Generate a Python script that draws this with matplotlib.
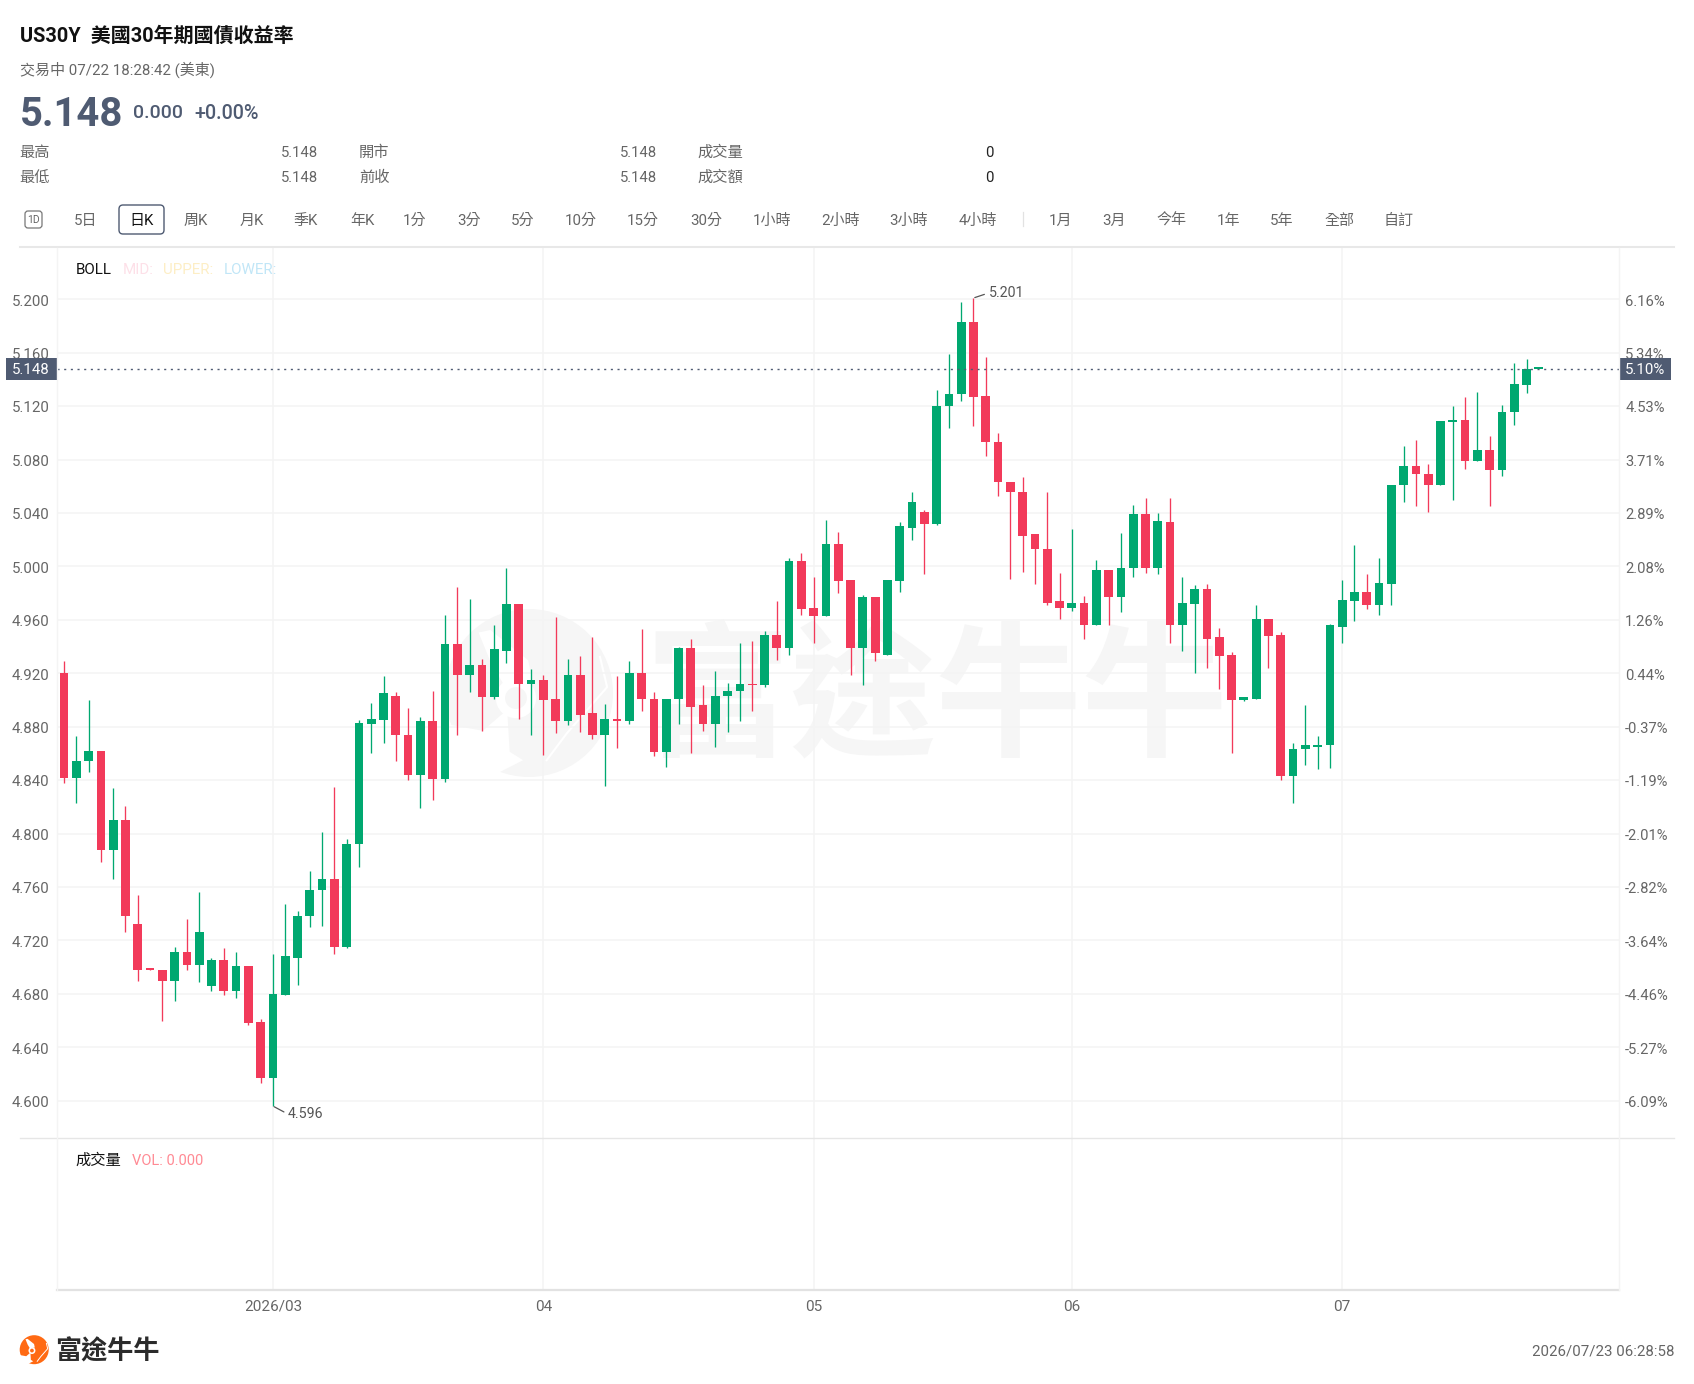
import numpy as np
import matplotlib
matplotlib.use('Agg')
import matplotlib.pyplot as plt
from matplotlib.patches import Circle, FancyBboxPatch, Polygon, Rectangle
from matplotlib.transforms import ScaledTranslation

plt.rcParams['font.family'] = ['Roboto', 'Noto Sans CJK TC', 'DejaVu Sans']

# daily candles
opens = [4.920, 4.842, 4.854, 4.862, 4.788, 4.810, 4.732, 4.699, 4.698, 4.690,
         4.711, 4.702, 4.686, 4.705, 4.682, 4.701, 4.659, 4.617, 4.679, 4.707,
         4.738, 4.758, 4.766, 4.715, 4.792, 4.882, 4.885, 4.903, 4.874, 4.844,
         4.884, 4.841, 4.942, 4.919, 4.926, 4.902, 4.937, 4.972, 4.912, 4.915,
         4.901, 4.884, 4.919, 4.890, 4.874, 4.886, 4.884, 4.920, 4.901, 4.861,
         4.901, 4.939, 4.896, 4.882, 4.903, 4.907, 4.912, 4.911, 4.949, 4.939,
         5.004, 4.969, 4.963, 5.017, 4.990, 4.939, 4.977, 4.934, 4.989, 5.029,
         5.041, 5.032, 5.120, 5.129, 5.183, 5.128, 5.093, 5.063, 5.056, 5.024,
         5.013, 4.974, 4.969, 4.973, 4.956, 4.997, 4.977, 4.999, 5.039, 4.999,
         5.033, 4.956, 4.972, 4.983, 4.947, 4.934, 4.900, 4.901, 4.961, 4.949,
         4.843, 4.863, 4.865, 4.866, 4.955, 4.974, 4.981, 4.971, 4.987, 5.061,
         5.075, 5.069, 5.061, 5.108, 5.110, 5.079, 5.087, 5.072, 5.116, 5.136,
         5.148]
highs = [4.929, 4.873, 4.900, 4.862, 4.834, 4.821, 4.754, 4.699, 4.698, 4.715,
         4.736, 4.756, 4.707, 4.714, 4.711, 4.701, 4.661, 4.710, 4.747, 4.742,
         4.772, 4.801, 4.835, 4.796, 4.885, 4.898, 4.918, 4.906, 4.894, 4.887,
         4.907, 4.964, 4.985, 4.976, 4.931, 4.956, 4.999, 4.972, 4.923, 4.919,
         4.962, 4.931, 4.933, 4.947, 4.897, 4.918, 4.929, 4.953, 4.906, 4.901,
         4.940, 4.946, 4.911, 4.922, 4.913, 4.943, 4.944, 4.952, 4.974, 5.006,
         5.010, 4.992, 5.035, 5.026, 4.990, 4.979, 4.977, 4.990, 5.033, 5.056,
         5.042, 5.132, 5.159, 5.198, 5.201, 5.157, 5.100, 5.063, 5.067, 5.024,
         5.056, 4.995, 5.028, 4.978, 5.005, 4.997, 5.025, 5.046, 5.051, 5.040,
         5.051, 4.992, 4.986, 4.987, 4.954, 4.936, 4.902, 4.971, 4.961, 4.951,
         4.868, 4.896, 4.873, 4.957, 4.990, 5.016, 4.994, 5.006, 5.061, 5.090,
         5.095, 5.077, 5.109, 5.120, 5.127, 5.131, 5.098, 5.121, 5.152, 5.155,
         5.148]
lows = [4.838, 4.823, 4.846, 4.779, 4.766, 4.726, 4.690, 4.698, 4.660, 4.675,
        4.698, 4.689, 4.682, 4.679, 4.677, 4.657, 4.613, 4.596, 4.679, 4.687,
        4.730, 4.731, 4.710, 4.714, 4.775, 4.860, 4.868, 4.854, 4.840, 4.819,
        4.825, 4.839, 4.874, 4.906, 4.877, 4.901, 4.928, 4.886, 4.874, 4.859,
        4.875, 4.881, 4.876, 4.871, 4.836, 4.864, 4.882, 4.892, 4.858, 4.850,
        4.882, 4.860, 4.877, 4.865, 4.876, 4.884, 4.892, 4.910, 4.930, 4.934,
        4.964, 4.943, 4.963, 4.980, 4.919, 4.911, 4.929, 4.934, 4.981, 5.020,
        4.994, 5.031, 5.104, 5.124, 5.105, 5.083, 5.053, 4.991, 4.996, 4.987,
        4.971, 4.961, 4.967, 4.946, 4.956, 4.956, 4.966, 4.992, 4.995, 4.994,
        4.943, 4.937, 4.920, 4.924, 4.908, 4.860, 4.899, 4.901, 4.924, 4.840,
        4.823, 4.851, 4.848, 4.849, 4.943, 4.959, 4.968, 4.964, 4.971, 5.048,
        5.045, 5.041, 5.061, 5.050, 5.073, 5.079, 5.045, 5.068, 5.106, 5.130,
        5.148]
closes = [4.842, 4.854, 4.862, 4.788, 4.810, 4.738, 4.698, 4.698, 4.690, 4.711,
          4.702, 4.726, 4.705, 4.682, 4.701, 4.658, 4.617, 4.680, 4.708, 4.738,
          4.758, 4.766, 4.715, 4.792, 4.883, 4.886, 4.905, 4.874, 4.844, 4.884,
          4.841, 4.942, 4.919, 4.926, 4.902, 4.938, 4.972, 4.912, 4.915, 4.900,
          4.884, 4.919, 4.889, 4.874, 4.886, 4.884, 4.920, 4.901, 4.861, 4.901,
          4.939, 4.895, 4.882, 4.903, 4.907, 4.912, 4.911, 4.949, 4.939, 5.004,
          4.968, 4.963, 5.017, 4.989, 4.939, 4.977, 4.935, 4.990, 5.030, 5.048,
          5.032, 5.120, 5.129, 5.183, 5.127, 5.093, 5.063, 5.056, 5.023, 5.013,
          4.973, 4.969, 4.973, 4.956, 4.997, 4.977, 4.999, 5.039, 4.999, 5.034,
          4.956, 4.973, 4.983, 4.946, 4.933, 4.900, 4.902, 4.961, 4.948, 4.843,
          4.863, 4.866, 4.866, 4.956, 4.975, 4.981, 4.971, 4.988, 5.061, 5.075,
          5.069, 5.061, 5.109, 5.110, 5.079, 5.087, 5.072, 5.116, 5.137, 5.148,
          5.148]

price_ticks = [5.2, 5.16, 5.12, 5.08, 5.04, 5.0, 4.96, 4.92, 4.88, 4.84, 4.8,
               4.76, 4.72, 4.68, 4.64, 4.6]
pct_labels = ['6.16%', '5.34%', '4.53%', '3.71%', '2.89%', '2.08%', '1.26%', '0.44%',
              '-0.37%', '-1.19%', '-2.01%', '-2.82%', '-3.64%', '-4.46%', '-5.27%', '-6.09%']
month_pos = [17, 39, 61, 82, 104]
month_labels = ['2026/03', '04', '05', '06', '07']
last_price = 5.148

toolbar_names = ['5日', '日K', '周K', '月K', '季K', '年K', '1分', '3分', '5分', '10分', '15分', '30分',
                 '1小時', '2小時', '3小時', '4小時', '1月', '3月', '今年', '1年', '5年', '全部', '自訂']
toolbar_x = [86, 142, 196, 252, 306, 362, 415, 469, 523, 581, 643, 706,
             772, 841, 909, 978, 1060, 1114, 1171, 1228, 1282, 1339, 1399]

GREEN = '#00a870'
RED = '#f23a5a'
SLATE = '#4f5b72'
GREY = '#666666'
GRID = '#f4f4f4'

W, H = 1694, 1384
fig = plt.figure(figsize=(W / 100, H / 100), dpi=100, facecolor='white')


def rect(x0, y0, x1, y1):
    return [x0 / W, 1 - y1 / H, (x1 - x0) / W, (y1 - y0) / H]


def draw_mark(target, cx, cy, d, color, lw):
    # rough fox-head logo: disc with white cuts
    r = d / 2

    def pts(rel):
        return [[cx + a * r, cy + b * r] for a, b in rel]

    target.add_patch(Circle((cx, cy), r, color=color, lw=0))
    target.add_patch(Polygon(pts([(-.60, -.72), (-.46, -.75), (-.01, -.39), (.04, -.15), (-.3, -.1), (-.45, -.35)]),
                             color='white', lw=0))
    target.add_patch(Polygon(pts([(-.26, .2), (-.23, .70), (-.07, .80), (-.7, 1.12), (-1.1, 1.12), (-1.1, .35), (-.55, .45)]),
                             color='white', lw=0))
    target.add_patch(Circle(pts([(-.155, .06)])[0], r * .24, color='white', lw=0))
    target.add_patch(Circle(pts([(-.155, .06)])[0], r * .13, color=color, lw=0))
    curve = pts([(.845, -.43), (.93, -.07), (.45, .48), (.21, .80)])
    target.plot([p[0] for p in curve], [p[1] for p in curve], color='white', lw=lw)


# watermark sits under the chart, everything else in page pixels goes on top
under = fig.add_axes([0, 0, 1, 1], zorder=-1)
under.set_xlim(0, W)
under.set_ylim(H, 0)
under.axis('off')
draw_mark(under, 529, 693, 168, '#f6f6f6', 1.5)
under.text(936, 705, '富途牛牛', fontsize=105, color='#f6f6f6', ha='center', va='center', fontweight='bold')

x_lim = (-0.57, 126.5)
ax = fig.add_axes(rect(57, 247, 1618.7, 1138), facecolor='none', zorder=1)
ax.set_xlim(*x_lim)
ax.set_ylim(4.5721, 5.2392)
ax.set_xticks(month_pos)
ax.set_xticklabels([])
ax.set_yticks(price_ticks)
ax.set_yticklabels(['%.3f' % t for t in price_ticks], color=GREY, fontsize=10.8)
ax.tick_params(length=0, pad=5.6)
ax.grid(True, color=GRID, lw=1.1)
ax.set_axisbelow(True)
for s in ax.spines.values():
    s.set_visible(False)

right = ax.twinx()
right.set_ylim(ax.get_ylim())
right.set_yticks(price_ticks)
right.set_yticklabels(pct_labels, color=GREY, fontsize=10.6)
right.tick_params(length=0, pad=4.6)
for s in right.spines.values():
    s.set_visible(False)

# nudge tick labels down a pixel
nudge = ScaledTranslation(0, -0.7 / 100, fig.dpi_scale_trans)
for lab in ax.get_yticklabels() + right.get_yticklabels():
    lab.set_transform(lab.get_transform() + nudge)

# candles
idx = np.arange(len(opens))
o = np.array(opens)
c = np.array(closes)
colors = [GREEN if b >= a else RED for a, b in zip(o, c)]
ax.vlines(idx, lows, highs, colors=colors, lw=0.95, zorder=3)
ax.bar(idx, np.maximum(np.abs(o - c), 0.0012), bottom=np.minimum(o, c), width=0.71,
       color=colors, lw=0, zorder=4)

ax.axhline(last_price, color=SLATE, lw=1.0, ls=(0, (1.5, 3.3)), zorder=5)

ax.annotate('5.201', xy=(74, max(highs)), xytext=(15, 5), textcoords='offset pixels', fontsize=10.2,
            color='#555555', va='center', ha='left',
            arrowprops=dict(arrowstyle='-', color='#555555', lw=0.9, shrinkA=1, shrinkB=1, relpos=(0, 0.5)))
ax.annotate('4.596', xy=(17, min(lows)), xytext=(15, -8), textcoords='offset pixels', fontsize=10.2,
            color='#555555', va='center', ha='left',
            arrowprops=dict(arrowstyle='-', color='#555555', lw=0.9, shrinkA=1, shrinkB=1, relpos=(0, 0.5)))

# empty volume pane
vol = fig.add_axes(rect(57, 1138, 1618.7, 1290), facecolor='none', zorder=1)
vol.set_xlim(*x_lim)
vol.set_ylim(0, 1)
vol.set_yticks([])
vol.set_xticks(month_pos)
vol.set_xticklabels(month_labels, color=GREY, fontsize=11)
vol.tick_params(length=0, pad=7)
vol.grid(True, axis='x', color=GRID, lw=1.1)
vol.set_axisbelow(True)
for name, s in vol.spines.items():
    s.set_visible(name == 'bottom')
vol.spines['bottom'].set_color('#e2e2e2')
vol.spines['bottom'].set_linewidth(1.6)

# page chrome
ov = fig.add_axes([0, 0, 1, 1], zorder=5, facecolor='none')
ov.set_xlim(0, W)
ov.set_ylim(H, 0)
ov.axis('off')

ov.plot([20, 1674], [247, 247], color='#e8e8e8', lw=1.5)
ov.plot([20, 1674], [1138, 1138], color='#e6e6e6', lw=1.0)
for xv in (57, 1618.7):
    ov.plot([xv, xv], [248, 1290], color=GRID, lw=1.0)

ov.text(20, 36, 'US30Y  美國30年期國債收益率', fontsize=14.4, color='#111111', va='center', fontweight='bold')
ov.text(20, 70, '交易中 07/22 18:28:42 (美東)', fontsize=10.8, color=GREY, va='center')
ov.text(19.5, 114.5, '5.148', fontsize=28.8, color=SLATE, va='center', fontweight='bold')
ov.text(133, 113.5, '0.000', fontsize=14, color=SLATE, va='center', fontweight='medium')
ov.text(194, 113.5, '+0.00%', fontsize=14.2, color=SLATE, va='center', fontweight='medium')

for y, a, b, d, v in [(153, '最高', '開市', '成交量', '0'), (178, '最低', '前收', '成交額', '0')]:
    ov.text(19.5, y, a, fontsize=11, color=GREY, va='center')
    ov.text(318, y, '5.148', fontsize=10.7, color=GREY, va='center', ha='right')
    ov.text(359, y, b, fontsize=11, color=GREY, va='center')
    ov.text(657, y, '5.148', fontsize=10.7, color=GREY, va='center', ha='right')
    ov.text(697, y, d, fontsize=11, color=GREY, va='center')
    ov.text(994, y, v, fontsize=10.7, color='#222222', va='center', ha='right')

ov.add_patch(FancyBboxPatch((27, 213), 13, 13, boxstyle='round,pad=2,rounding_size=3', fc='white', ec='#777777', lw=0.9))
ov.text(33.5, 220, '1D', fontsize=7.5, color=GREY, va='center', ha='center')
ov.add_patch(FancyBboxPatch((122, 208), 39, 23, boxstyle='round,pad=3,rounding_size=4', fc='white', ec=SLATE, lw=1.0))
for name, xv in zip(toolbar_names, toolbar_x):
    ov.text(xv, 220.5, name, fontsize=10.8, color='#111111' if name == '日K' else GREY, va='center', ha='center')
ov.plot([1023, 1023], [212, 226], color='#e2e2e2', lw=0.9)

ov.text(76, 270, 'BOLL', fontsize=10.9, color='#111111', va='center')
ov.text(123, 270, 'MID:', fontsize=10.9, color='#fde0e8', va='center')
ov.text(163, 270, 'UPPER:', fontsize=10.9, color='#fdeec5', va='center')
ov.text(224, 270, 'LOWER:', fontsize=10.9, color='#c1e6f7', va='center')
ov.text(75.5, 1161, '成交量', fontsize=11, color='#111111', va='center')
ov.text(131.5, 1161, 'VOL: 0.000', fontsize=10.5, color='#ff8a94', va='center')

# current price tags
tag_y = 369
ov.add_patch(Rectangle((6, tag_y - 11), 50.5, 22, color=SLATE, lw=0))
ov.text(31, tag_y + 0.8, '%.3f' % last_price, fontsize=10.8, color='white', va='center', ha='center')
ov.add_patch(Rectangle((1619, tag_y - 11), 52, 22, color=SLATE, lw=0))
ov.text(1625, tag_y + 0.8, '5.10%', fontsize=10.8, color='white', va='center')

# logo and timestamp
draw_mark(ov, 34.2, 1349.7, 29, '#ff6a13', 0.7)
ov.text(55.5, 1352, '富途牛牛', fontsize=18.8, color='#2b2b2b', va='center', fontweight='bold')
ov.text(1674, 1352, '2026/07/23 06:28:58', fontsize=10.85, color=GREY, va='center', ha='right')

fig.savefig('out.png', dpi=100, facecolor='white')
